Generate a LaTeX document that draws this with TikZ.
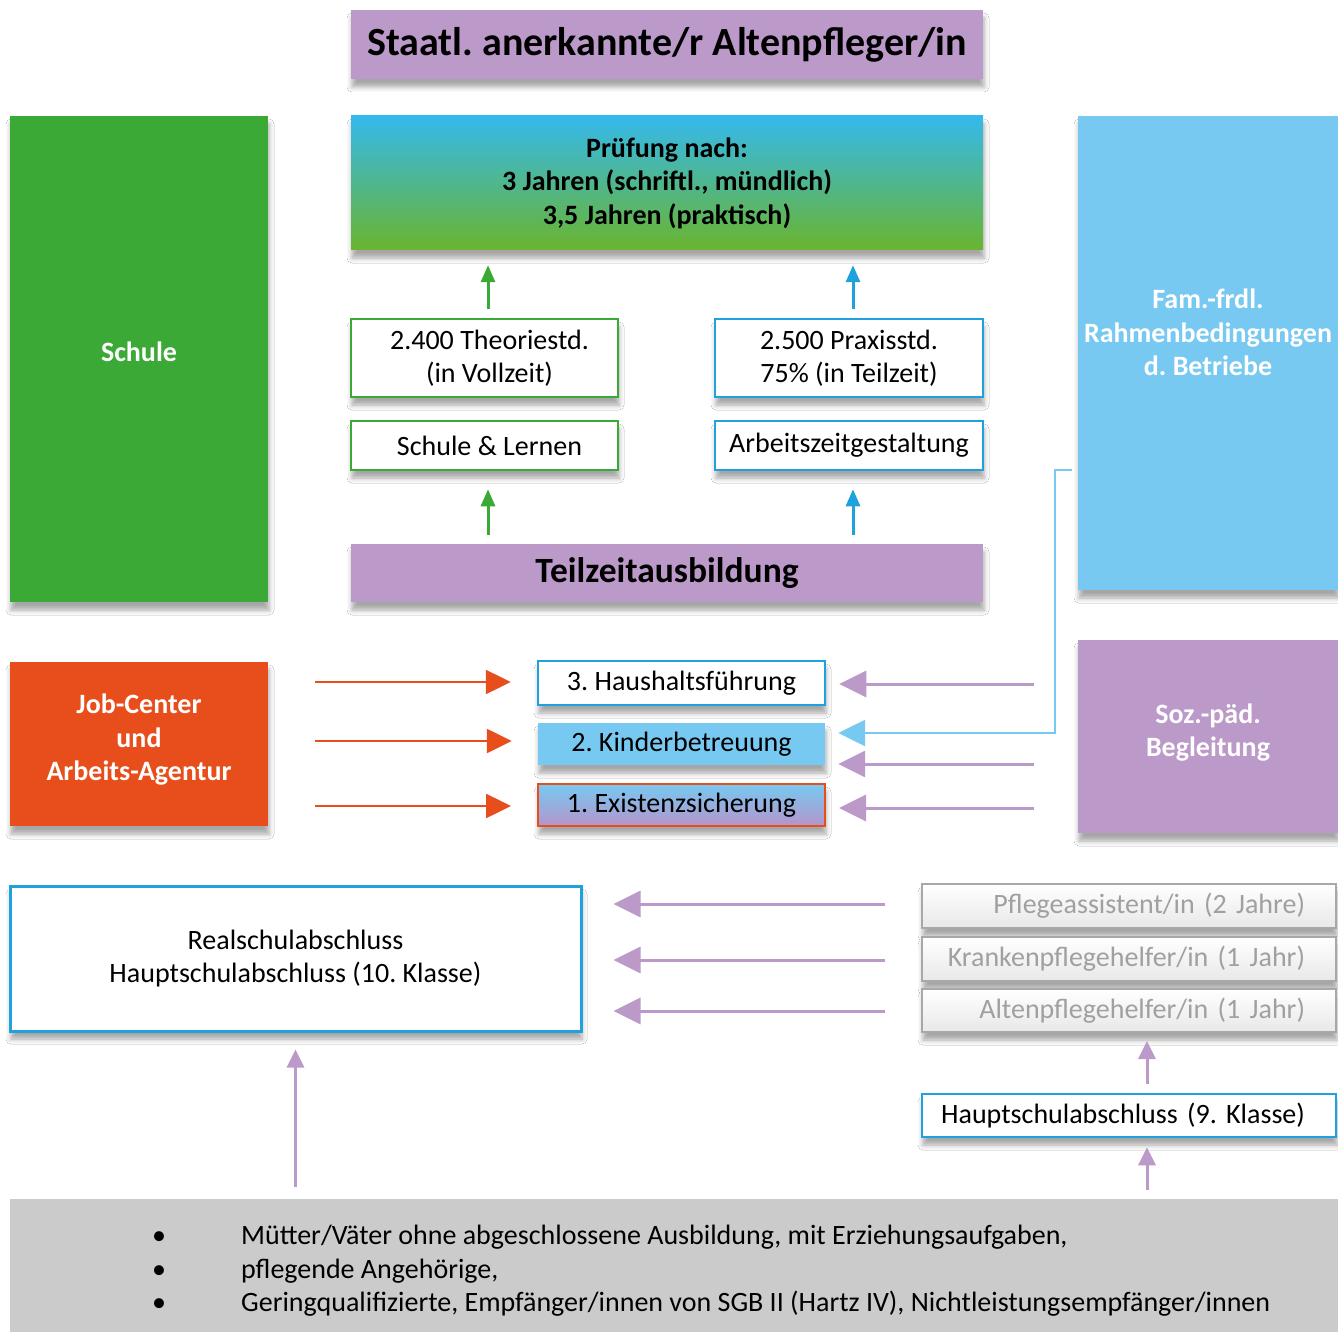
\documentclass[tikz,border=0pt]{standalone}
\usepackage{fontspec}
\setmainfont{Carlito}
\frenchspacing
\usetikzlibrary{arrows.meta,shadows.blur}
\definecolor{lila}{HTML}{BB99C9}
\definecolor{gruen}{HTML}{3BA935}
\definecolor{hblau}{HTML}{77C9F1}
\definecolor{dblau}{HTML}{1EA1DC}
\definecolor{orng}{HTML}{E84E1B}
\definecolor{ptop}{HTML}{35B9EC}
\definecolor{pbot}{HTML}{6AB42E}
\definecolor{lbot}{HTML}{B495CB}
\definecolor{grtxt}{HTML}{A0A0A0}
\definecolor{grbrd}{HTML}{A8A8A8}
\definecolor{bgrau}{HTML}{CBCBCB}
\tikzset{
  shd/.style={blur shadow={shadow xshift=1pt, shadow yshift=-8pt, shadow blur radius=5pt, shadow opacity=35}},
  box/.style={rectangle, inner sep=0pt, align=center, shd},
  rg/.style={font=\fontsize{28}{33.5}\selectfont},
  bd/.style={font=\fontsize{28}{33.5}\selectfont\bfseries},
  garr/.style={draw=gruen, line width=3pt, -{Triangle[length=17pt,width=14pt]}},
  barr/.style={draw=dblau, line width=3pt, -{Triangle[length=17pt,width=14pt]}},
  oarr/.style={draw=orng, line width=2.5pt, -{Triangle[length=25pt,width=24pt]}},
  parr/.style={draw=lila, line width=3pt, -{Triangle[length=27pt,width=26pt]}},
  parrup/.style={draw=lila, line width=3pt, -{Triangle[length=18pt,width=17pt]}},
  carr/.style={draw=hblau, line width=2.5pt, -{Triangle[length=27pt,width=26pt]}},
  grbox/.style={box, draw=grbrd, line width=2pt, top color=white, bottom color=black!9,
    text=grtxt, rg, minimum width=414pt, text width=400pt, align=right},
}
\begin{document}
\begin{tikzpicture}[x=1pt,y=-1pt]
\useasboundingbox[fill=white] (0,0) rectangle (1338,1332);

% top
\node[box, fill=lila, minimum width=632pt, minimum height=69pt,
  font=\fontsize{40}{46}\selectfont\bfseries] (title) at (667,44.5) {Staatl. anerkannte/r Altenpfleger/in};
\node[box, top color=ptop, bottom color=pbot, minimum width=632pt, minimum height=134pt, bd]
  (pruef) at (667,183) {Prüfung nach:\\3 Jahren (schriftl., mündlich)\\3,5 Jahren (praktisch)};

\node[box, fill=gruen, minimum width=258pt, minimum height=486pt, bd, text=white]
  (schule) at (139,359) {Schule\rule[-14pt]{0pt}{0pt}};
\node[box, fill=hblau, minimum width=260pt, minimum height=474pt, bd, text=white]
  (fam) at (1208,353) {Fam.-frdl.\\Rahmenbedingungen\\d. Betriebe\rule[-41pt]{0pt}{0pt}};

\node[box, fill=white, draw=gruen, line width=2.5pt, minimum width=267pt, minimum height=78pt, rg]
  (theorie) at (484.5,358) {\hspace*{10pt}2.400 Theoriestd.\\\hspace*{10pt}(in Vollzeit)};
\node[box, fill=white, draw=dblau, line width=2.5pt, minimum width=268pt, minimum height=78pt, rg]
  (praxis) at (849,358) {2.500 Praxisstd.\\75\% (in Teilzeit)};
\node[box, fill=white, draw=gruen, line width=2.5pt, minimum width=267pt, minimum height=49pt, rg]
  (schlern) at (484.5,445.5) {\hspace*{10pt}Schule \& Lernen};
\node[box, fill=white, draw=dblau, line width=2.5pt, minimum width=268pt, minimum height=49pt, rg]
  (azg) at (849,445.5) {\raisebox{-2pt}{Arbeitszeitgestaltung}};

\node[box, fill=lila, minimum width=632pt, minimum height=58pt,
  font=\fontsize{35.5}{40}\selectfont\bfseries] (teil) at (667,573) {Teilzeitausbildung};

% middle
\node[box, fill=orng, minimum width=258pt, minimum height=164pt, bd, text=white]
  (job) at (139,744) {Job-Center\\und\\Arbeits-Agentur\rule[-13pt]{0pt}{0pt}};
\node[box, fill=white, draw=dblau, line width=2.5pt, minimum width=287pt, minimum height=44pt, rg]
  (haus) at (681.5,683) {3. Haushaltsführung};
\node[box, fill=hblau, minimum width=287pt, minimum height=42pt, rg]
  (kind) at (681.5,744) {2. Kinderbetreuung};
\node[box, top color=hblau, bottom color=lbot, draw=orng, line width=2pt, minimum width=287pt, minimum height=42pt, rg]
  (exist) at (681.5,805) {1. Existenzsicherung};
\node[box, fill=lila, minimum width=260pt, minimum height=193pt, bd, text=white]
  (soz) at (1208,736.5) {Soz.-päd.\\Begleitung\rule[-13pt]{0pt}{0pt}};

% lower
\node[box, fill=white, draw=dblau, line width=3pt, minimum width=571pt, minimum height=145pt, rg]
  (real) at (295.5,958.5) {Realschulabschluss\\Hauptschulabschluss (10. Klasse)};
\node[grbox, minimum height=44pt] (pfl) at (1129,906) {Pflegeassistent/in (2 Jahre)\kern24pt};
\node[grbox, minimum height=44pt] (kran) at (1129,959) {Krankenpflegehelfer/in (1 Jahr)\kern24pt};
\node[grbox, minimum height=43pt] (alt) at (1129,1010.5) {Altenpflegehelfer/in (1 Jahr)\kern24pt};
\node[box, fill=white, draw=dblau, line width=2.5pt, minimum width=414pt, minimum height=43pt, rg,
  text width=400pt, align=right] (haupt) at (1129,1115.5) {Hauptschulabschluss (9. Klasse)\kern24pt};

\node[rectangle, inner sep=0pt, fill=bgrau, minimum width=1328pt, minimum height=133pt]
  (ziel) at (674,1265.5) {};
\node[anchor=west, inner sep=0pt, align=left, rg] (zieltxt) at (152,1271)
  {\makebox[89pt][l]{\textbullet}Mütter/Väter ohne abgeschlossene Ausbildung, mit Erziehungsaufgaben,\\
   \makebox[89pt][l]{\textbullet}pflegende Angehörige,\\
   \makebox[89pt][l]{\textbullet}Geringqualifizierte, Empfänger/innen von SGB II (Hartz IV), Nichtleistungsempfänger/innen};

% connectors
\draw[garr, shorten <=9pt, shorten >=15pt] ([xshift=3.5pt]theorie.north) -- ([xshift=3.5pt]theorie.north |- pruef.south);
\draw[barr, shorten <=9pt, shorten >=15pt] ([xshift=4pt]praxis.north) -- ([xshift=4pt]praxis.north |- pruef.south);
\draw[garr, shorten <=9pt, shorten >=18pt] ([xshift=3.5pt]teil.north -| schlern.south) -- ([xshift=3.5pt]schlern.south);
\draw[barr, shorten <=9pt, shorten >=18pt] ([xshift=4pt]teil.north -| azg.south) -- ([xshift=4pt]azg.south);

\draw[oarr, shorten <=47pt, shorten >=26pt] (job.east |- haus.west) ++(0,-1) -- ([yshift=1pt]haus.west);
\draw[oarr, shorten <=47pt, shorten >=26pt] (job.east |- kind.west) ++(0,-3) -- ([yshift=3pt]kind.west);
\draw[oarr, shorten <=47pt, shorten >=26pt] (job.east |- exist.west) ++(0,1) -- ([yshift=-1pt]exist.west);

\draw[parr, shorten <=44pt, shorten >=13pt] (soz.west |- haus.east) ++(0,1) -- ([yshift=-1pt]haus.east);
\draw[parr, shorten <=44pt, shorten >=13pt] (soz.west |- kind.east) ++(0,20) -- ([yshift=-20pt]kind.east);
\draw[parr, shorten <=44pt, shorten >=13pt] (soz.west |- exist.east) ++(0,3) -- ([yshift=-3pt]exist.east);
\draw[carr, shorten <=6pt, shorten >=13pt] ([yshift=-117pt]fam.west) -- ++(-23,0) |- ([yshift=11pt]kind.east);

\draw[parr, shorten <=36pt, shorten >=31pt] ([yshift=2pt]pfl.west) -- ([yshift=2pt]pfl.west -| real.east);
\draw[parr, shorten <=36pt, shorten >=31pt] ([yshift=-1pt]kran.west) -- ([yshift=-1pt]kran.west -| real.east);
\draw[parr, shorten <=36pt, shorten >=31pt] ([yshift=-0.5pt]alt.west) -- ([yshift=-0.5pt]alt.west -| real.east);

\draw[parrup, shorten <=9pt, shorten >=8pt] ([xshift=18pt]haupt.north) -- ([xshift=18pt]alt.south);
\draw[parrup, shorten <=9pt, shorten >=9pt] ([xshift=18pt]haupt.south |- ziel.north) -- ([xshift=18pt]haupt.south);
\draw[parrup, shorten <=12pt, shorten >=17pt] (real.south |- ziel.north) -- (real.south);
\end{tikzpicture}
\end{document}
